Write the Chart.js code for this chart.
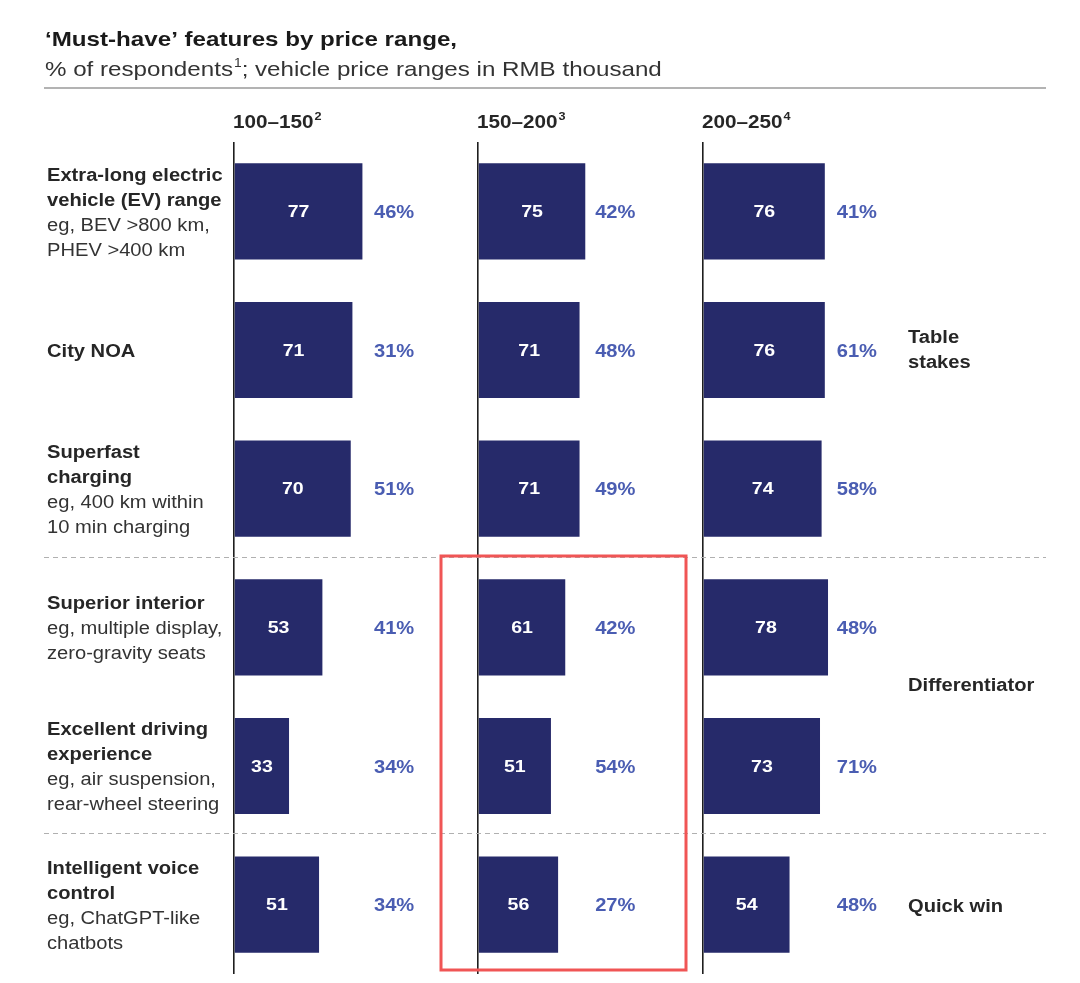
<!DOCTYPE html>
<html>
<head>
<meta charset="utf-8">
<script src="https://cdn.jsdelivr.net/npm/chart.js@4/dist/chart.umd.min.js"></script>
<style>
  html, body { margin: 0; padding: 0; background: #fff; }
  #wrap { position: relative; width: 1080px; height: 983px; }
</style>
</head>
<body>
<div id="wrap"><canvas id="c" width="1080" height="983"></canvas></div>
<script>
// ---------------- DATA ----------------
const featureNames = [
  ['Extra-long electric', 'vehicle (EV) range'],
  ['City NOA'],
  ['Superfast', 'charging'],
  ['Superior interior'],
  ['Excellent driving', 'experience'],
  ['Intelligent voice', 'control']
];
const featureExamples = [
  ['eg, BEV >800 km,', 'PHEV >400 km'],
  [],
  ['eg, 400 km within', '10 min charging'],
  ['eg, multiple display,', 'zero-gravity seats'],
  ['eg, air suspension,', 'rear-wheel steering'],
  ['eg, ChatGPT-like', 'chatbots']
];
const categories = featureNames.map(l => l.join(' '));

const priceRanges = ['100–150', '150–200', '200–250'];
const priceFootnotes = ['2', '3', '4'];

const values100 = [77, 71, 70, 53, 33, 51];
const values150 = [75, 71, 71, 61, 51, 56];
const values200 = [76, 76, 74, 78, 73, 54];

const share100 = [46, 31, 51, 41, 34, 34];
const share150 = [42, 48, 49, 42, 54, 27];
const share200 = [41, 61, 58, 48, 71, 48];

const tierLabels = [['Table', 'stakes'], ['Differentiator'], ['Quick win']];

const titleText = '‘Must-have’ features by price range,';
const subtitlePre = '% of respondents';
const subtitleSup = '1';
const subtitlePost = '; vehicle price ranges in RMB thousand';

// ---------------- STYLE ----------------
const SX = 1.15;               // horizontal text stretch of the reference
const FONT = '"Liberation Sans", Arial, sans-serif';
const BAR = '#262a6a';
const PCT = '#4a5db2';
const INK = '#262626';

function txt(ctx, s, x, y, size, weight, color, align, base) {
  ctx.save();
  ctx.font = weight + ' ' + size + 'px ' + FONT;
  ctx.fillStyle = color;
  ctx.textAlign = align || 'left';
  ctx.textBaseline = base || 'middle';
  ctx.translate(x, y);
  ctx.scale(SX, 1);
  ctx.fillText(s, 0, 0);
  const w = ctx.measureText(s).width * SX;
  ctx.restore();
  return w;
}

const allValues = [values100, values150, values200];
const allShares = [share100, share150, share200];
const axisIds = ['x1', 'x2', 'x3'];

const decorPlugin = {
  id: 'decor',
  beforeDatasetsDraw(chart) {
    const ctx = chart.ctx;
    // title rule
    ctx.save();
    ctx.strokeStyle = '#9a9a9a';
    ctx.lineWidth = 1.5;
    ctx.beginPath(); ctx.moveTo(44, 88); ctx.lineTo(1046, 88); ctx.stroke();
    // dashed tier separators
    ctx.strokeStyle = '#b0b0b0';
    ctx.lineWidth = 1;
    ctx.setLineDash([5, 4]);
    [557, 833].forEach(y => {
      ctx.beginPath(); ctx.moveTo(44, y + 0.5); ctx.lineTo(1046, y + 0.5); ctx.stroke();
    });
    ctx.restore();
  },
  afterDatasetsDraw(chart) {
    const ctx = chart.ctx;
    const yScale = chart.scales.y;
    // titles
    txt(ctx, titleText, 45, 46, 21, 'bold', '#1a1a1a', 'left', 'alphabetic');
    let w = txt(ctx, subtitlePre, 45, 76, 21, 'normal', '#333', 'left', 'alphabetic');
    let w2 = txt(ctx, subtitleSup, 45 + w + 1, 67, 12, 'normal', '#333', 'left', 'alphabetic');
    txt(ctx, subtitlePost, 45 + w + w2 + 1, 76, 21, 'normal', '#333', 'left', 'alphabetic');

    // column headers
    axisIds.forEach((id, i) => {
      const sc = chart.scales[id];
      const hw = txt(ctx, priceRanges[i], sc.left - 1, 128, 18, 'bold', INK, 'left', 'alphabetic');
      txt(ctx, priceFootnotes[i], sc.left - 1 + hw + 1, 120, 11, 'bold', INK, 'left', 'alphabetic');
    });

    // left category labels
    categories.forEach((c, r) => {
      const cy = yScale.getPixelForValue(r);
      const lines = featureNames[r].map(t => [t, 'bold', INK])
        .concat(featureExamples[r].map(t => [t, 'normal', '#333']));
      const lh = 25;
      const y0 = cy - (lines.length - 1) * lh / 2 + 2;
      lines.forEach((ln, k) => txt(ctx, ln[0], 47, y0 + k * lh, 17.5, ln[1], ln[2], 'left', 'middle'));
    });

    // bar values and shares
    axisIds.forEach((id, i) => {
      const sc = chart.scales[id];
      const meta = chart.getDatasetMeta(i);
      meta.data.forEach((bar, r) => {
        const cx = (bar.x + bar.base) / 2;
        txt(ctx, String(allValues[i][r]), cx, bar.y + 1, 17, 'bold', '#fff', 'center', 'middle');
        txt(ctx, allShares[i][r] + '%', sc.getPixelForValue(96), bar.y + 2, 17.5, 'bold', PCT, 'center', 'middle');
      });
    });

    // right tier labels
    txt(ctx, tierLabels[0][0], 908, 338, 17.5, 'bold', INK, 'left', 'middle');
    txt(ctx, tierLabels[0][1], 908, 363, 17.5, 'bold', INK, 'left', 'middle');
    txt(ctx, tierLabels[1][0], 908, 686, 17.5, 'bold', INK, 'left', 'middle');
    txt(ctx, tierLabels[2][0], 908, 907, 17.5, 'bold', INK, 'left', 'middle');

    // red highlight box
    ctx.save();
    ctx.strokeStyle = '#f05555';
    ctx.lineWidth = 3;
    ctx.strokeRect(441, 556, 245, 414);
    ctx.restore();
  }
};

function axisCfg(max, weight) {
  return {
    type: 'linear',
    position: 'bottom',
    stack: 'panels',
    stackWeight: weight,
    min: 0,
    max: max,
    ticks: { display: false },
    border: { display: false },
    grid: {
      drawTicks: false,
      lineWidth: 1.6,
      color: c => (c.tick && c.tick.value === 0) ? '#1e1e1e' : 'rgba(0,0,0,0)'
    }
  };
}

new Chart(document.getElementById('c'), {
  type: 'bar',
  data: {
    labels: categories,
    datasets: allValues.map((vals, i) => ({
      label: priceRanges[i],
      data: vals,
      xAxisID: axisIds[i],
      yAxisID: 'y',
      backgroundColor: BAR,
      borderWidth: 0,
      grouped: false,
      categoryPercentage: 1,
      barPercentage: 0.693
    }))
  },
  options: {
    indexAxis: 'y',
    responsive: false,
    animation: false,
    devicePixelRatio: 1,
    layout: { padding: { left: 234, right: 34, top: 142, bottom: 9 } },
    plugins: { legend: { display: false }, tooltip: { enabled: false }, title: { display: false } },
    scales: {
      y: { type: 'category', display: false },
      x1: axisCfg(146.3, 244),
      x2: axisCfg(157.3, 225),
      x3: axisCfg(214, 343)
    }
  },
  plugins: [decorPlugin]
});
</script>
</body>
</html>
